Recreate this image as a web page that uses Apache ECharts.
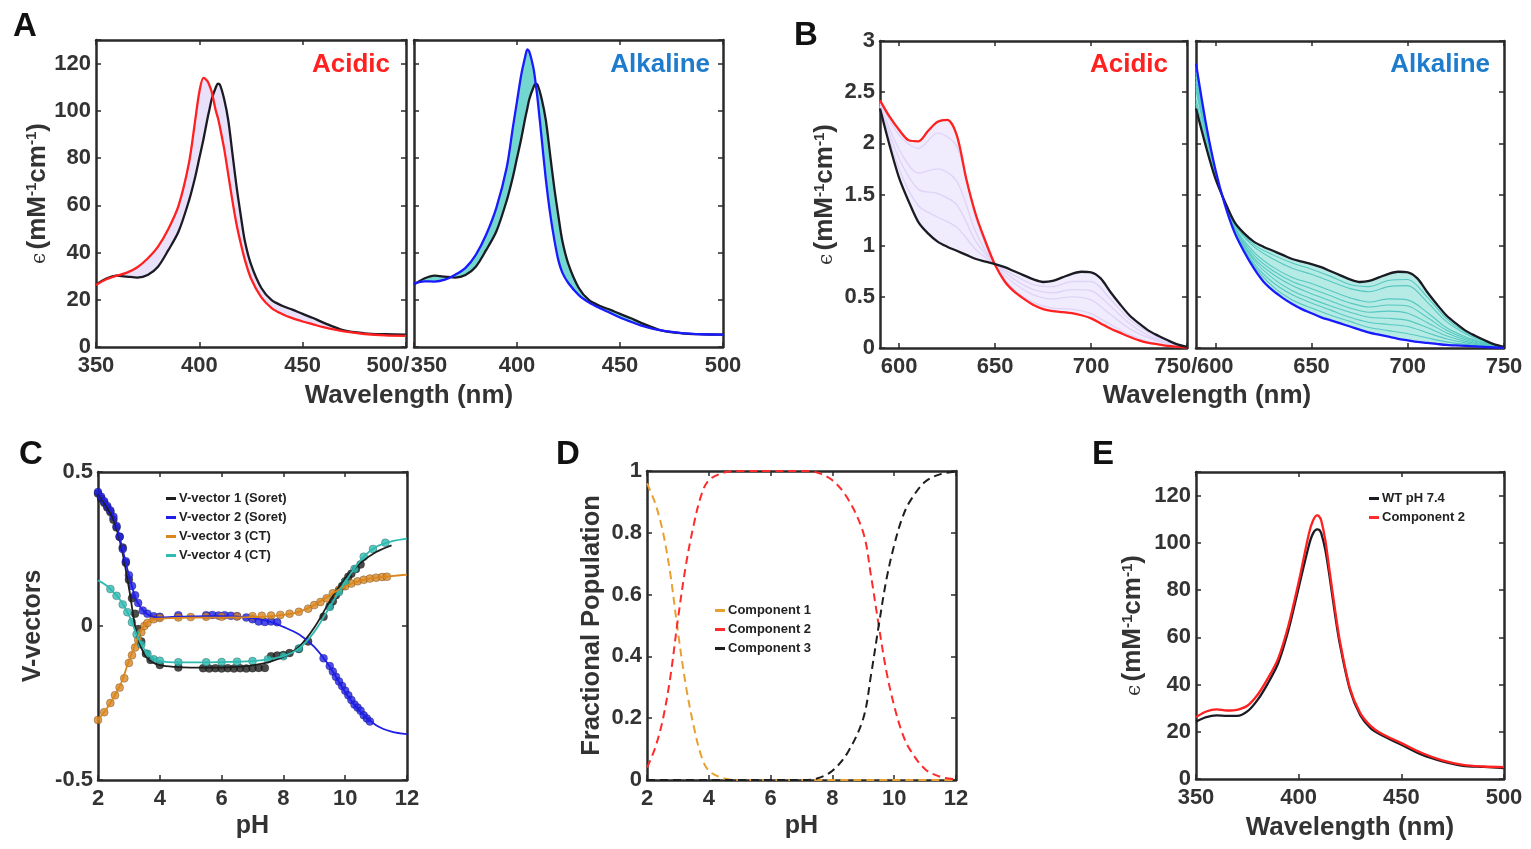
<!DOCTYPE html>
<html>
<head>
<meta charset="utf-8">
<script src="https://cdn.jsdelivr.net/npm/echarts@6/dist/echarts.min.js"></script>
<style>
html, body { margin: 0; padding: 0; background: #ffffff; }
#chart { width: 1531px; height: 849px; }
</style>
</head>
<body>
<div id="chart"></div>
<script>
// ---------- Panel A: Soret band (350-500 nm) ----------
const wlA = [350,355,360,365,370,375,380,385,390,395,398,400,402,404,405,406,408,409,410,412,414,416,418,420,422,425,430,435,440,445,450,455,460,470,480,490,500];
const epsAcidA = [26.3,28.7,30.2,31.5,33.8,37.5,42.5,50,60,78,96,108,114,112.5,110.5,108,100,97,93,84,73,62,52,44,37,29,21,16.5,14,12.2,10.8,9.6,8.4,6.6,5.5,4.9,4.7];
const epsNeutralA = [26.5,29,30.2,29.8,29.4,30.5,34,41,49,62,72,80,88,97,101,105,110,111.5,111,105,96,82,68,56,45,35,25,19.8,17.5,15.8,14,12.3,10.3,7,5.8,5.4,5.2];
const epsAlkA = [26.8,27.8,27.7,28.5,30.6,33.5,39,47.5,59,76,93,104,115,123,126,125,118,112,105,88,71,57,46,37,31.5,27,22,18.8,16.5,14.5,12.5,10.8,9.2,7,5.9,5.4,5.2];

// ---------- Panel B: charge-transfer region (590-750 nm) ----------
const wlB = [590,595,600,605,610,615,620,625,630,635,640,645,650,655,660,665,670,675,680,685,690,695,700,705,710,715,720,725,730,735,740,745,750];
const epsAcidB = [2.42,2.26,2.13,2.03,2.02,2.12,2.21,2.23,2.08,1.65,1.30,1.04,0.81,0.65,0.55,0.48,0.42,0.38,0.36,0.35,0.34,0.32,0.29,0.24,0.19,0.15,0.11,0.075,0.05,0.035,0.02,0.01,0.005];
const epsNeutralB = [2.34,1.98,1.66,1.43,1.23,1.12,1.04,0.99,0.95,0.91,0.87,0.845,0.82,0.79,0.75,0.71,0.67,0.645,0.655,0.69,0.725,0.745,0.74,0.68,0.55,0.43,0.32,0.24,0.17,0.12,0.075,0.035,0.01];
const epsAlkB = [2.78,2.21,1.75,1.40,1.13,0.94,0.78,0.65,0.56,0.49,0.43,0.38,0.34,0.30,0.27,0.24,0.21,0.18,0.15,0.13,0.11,0.09,0.075,0.06,0.05,0.04,0.03,0.025,0.02,0.015,0.01,0.005,0];

// intermediate titration spectra, sampled every 10 nm
const wlBmid = [590,600,610,620,630,640,650,660,670,680,690,700,710,720,730,740,750];
const acidMix1 = [2.41,2.08,1.95,2.10,1.97,1.26,0.81,0.57,0.445,0.39,0.38,0.335,0.23,0.13,0.06,0.025,0.006];
const acidMix2 = [2.39,1.94,1.71,1.75,1.63,1.13,0.81,0.63,0.52,0.48,0.50,0.47,0.33,0.19,0.10,0.042,0.007];
const acidMix3 = [2.37,1.85,1.55,1.51,1.40,1.04,0.82,0.67,0.57,0.54,0.57,0.56,0.41,0.24,0.12,0.053,0.008];
const acidMix4 = [2.36,1.75,1.39,1.28,1.18,0.96,0.82,0.71,0.62,0.60,0.65,0.65,0.48,0.28,0.15,0.064,0.009];
const alkMix1 = [2.38,1.67,1.22,1.01,0.91,0.83,0.77,0.70,0.62,0.60,0.66,0.67,0.50,0.29,0.155,0.069,0.009];
const alkMix2 = [2.43,1.68,1.21,0.99,0.87,0.78,0.72,0.65,0.58,0.55,0.60,0.61,0.45,0.26,0.14,0.06,0.008];
const alkMix3 = [2.52,1.70,1.19,0.94,0.79,0.69,0.63,0.56,0.49,0.45,0.48,0.47,0.35,0.20,0.11,0.05,0.006];
const alkMix4 = [2.56,1.71,1.18,0.91,0.755,0.65,0.58,0.51,0.44,0.40,0.42,0.41,0.30,0.175,0.095,0.043,0.005];
const alkMix5 = [2.60,1.71,1.17,0.88,0.72,0.61,0.53,0.46,0.39,0.35,0.36,0.34,0.25,0.15,0.08,0.036,0.004];
const alkMix6 = [2.65,1.72,1.16,0.86,0.68,0.56,0.48,0.41,0.35,0.30,0.29,0.27,0.20,0.12,0.065,0.03,0.003];
const alkMix7 = [2.69,1.73,1.15,0.83,0.64,0.52,0.44,0.37,0.30,0.25,0.23,0.21,0.15,0.09,0.05,0.023,0.002];
const alkMix8 = [2.74,1.74,1.14,0.81,0.60,0.47,0.39,0.32,0.26,0.20,0.17,0.14,0.10,0.06,0.035,0.017,0.001];

// ---------- Panel C: SVD V-vectors vs pH ----------
const phFit = [2,2.25,2.5,2.75,3,3.25,3.5,3.75,4,4.5,5,5.5,6,6.5,7,7.5,8,8.5,9,9.5,10,10.5,11,11.5,12];
const v1Fit = [0.43,0.392,0.345,0.258,0.125,-0.025,-0.093,-0.117,-0.127,-0.133,-0.135,-0.135,-0.135,-0.133,-0.128,-0.118,-0.1,-0.068,-0.005,0.08,0.155,0.205,0.24,0.262];
const v2Fit = [0.435,0.40,0.36,0.268,0.165,0.082,0.046,0.031,0.028,0.03,0.031,0.032,0.032,0.03,0.025,0.016,-0.003,-0.027,-0.068,-0.132,-0.215,-0.28,-0.322,-0.343,-0.351];
const v3Fit = [-0.305,-0.273,-0.232,-0.185,-0.113,-0.048,0.003,0.02,0.024,0.026,0.027,0.027,0.027,0.028,0.029,0.031,0.036,0.046,0.068,0.1,0.129,0.147,0.157,0.162,0.167];
const v4Fit = [0.148,0.133,0.11,0.08,0.035,-0.027,-0.076,-0.103,-0.113,-0.118,-0.118,-0.118,-0.117,-0.116,-0.114,-0.108,-0.098,-0.073,-0.019,0.062,0.143,0.214,0.257,0.275,0.284];

const v1PtsPH = [2.0,2.1,2.2,2.3,2.4,2.5,2.6,2.7,2.8,2.9,3.0,3.1,3.2,3.3,3.4,3.55,3.7,4.0,4.6,5.4,5.6,5.8,6.0,6.2,6.4,6.6,6.8,7.0,7.2,7.4,7.6,7.8,8.0,8.2,8.5,8.8,9.3,9.5,9.6,9.7,9.8,9.9,10.0,10.1,10.2,10.35,10.5];
const v1Pts = [0.43,0.415,0.40,0.385,0.37,0.345,0.32,0.29,0.255,0.205,0.15,0.09,0.04,-0.01,-0.05,-0.09,-0.11,-0.127,-0.135,-0.137,-0.138,-0.137,-0.138,-0.137,-0.138,-0.137,-0.138,-0.137,-0.136,-0.136,-0.098,-0.096,-0.094,-0.088,-0.075,-0.05,0.03,0.065,0.08,0.1,0.115,0.13,0.145,0.16,0.17,0.185,0.2];
const v2PtsPH = [2.0,2.1,2.2,2.3,2.4,2.5,2.6,2.7,2.8,2.9,3.0,3.1,3.2,3.3,3.45,3.6,3.8,4.0,4.6,5.5,5.7,5.9,6.1,6.3,6.5,6.8,7.0,7.2,7.4,7.6,7.8,9.3,9.5,9.6,9.7,9.8,9.9,10.0,10.1,10.2,10.3,10.4,10.5,10.6,10.7,10.8];
const v2Pts = [0.435,0.42,0.405,0.39,0.375,0.355,0.325,0.29,0.25,0.21,0.165,0.13,0.1,0.075,0.05,0.04,0.032,0.03,0.035,0.035,0.036,0.034,0.035,0.033,0.032,0.028,0.022,0.015,0.013,0.015,0.012,-0.105,-0.13,-0.148,-0.165,-0.18,-0.195,-0.21,-0.225,-0.24,-0.255,-0.265,-0.275,-0.29,-0.3,-0.31];
const v3PtsPH = [2.0,2.2,2.4,2.55,2.7,2.85,3.0,3.1,3.2,3.3,3.4,3.5,3.6,3.8,4.0,4.6,5.0,5.5,6.0,6.5,7.0,7.3,7.6,7.9,8.2,8.5,8.8,9.0,9.2,9.4,9.6,9.8,10.0,10.2,10.4,10.6,10.8,11.0,11.2,11.35];
const v3Pts = [-0.305,-0.28,-0.25,-0.225,-0.2,-0.17,-0.12,-0.095,-0.07,-0.045,-0.02,0.0,0.01,0.022,0.026,0.028,0.029,0.03,0.03,0.031,0.032,0.033,0.034,0.036,0.04,0.046,0.056,0.068,0.078,0.09,0.106,0.118,0.129,0.138,0.145,0.15,0.154,0.157,0.159,0.16];
const v4PtsPH = [2.4,2.6,2.8,2.95,3.1,3.25,3.4,3.6,3.8,4.0,4.6,5.5,6.0,6.5,7.0,7.5,8.0,8.5,9.5,9.8,10.0,10.3,10.6,10.9,11.3];
const v4Pts = [0.12,0.098,0.07,0.045,0.012,-0.027,-0.06,-0.09,-0.108,-0.113,-0.118,-0.118,-0.117,-0.116,-0.114,-0.108,-0.098,-0.073,0.062,0.11,0.143,0.185,0.225,0.25,0.27];

// ---------- Panel D: fractional populations ----------
const phPop = [2,2.25,2.5,2.75,3,3.25,3.5,3.75,4,4.5,5,6,7,7.5,8,8.5,9,9.25,9.5,9.75,10,10.25,10.5,11,11.5,12];
const comp1 = [0.96,0.90,0.81,0.67,0.48,0.31,0.18,0.08,0.03,0.005,0,0,0,0,0,0,0,0,0,0,0,0,0,0,0,0];
const comp2 = [0.04,0.10,0.19,0.33,0.52,0.69,0.82,0.92,0.97,0.995,1,1,1,0.995,0.97,0.91,0.80,0.66,0.50,0.35,0.24,0.155,0.10,0.035,0.01,0.002];
const comp3 = [0,0,0,0,0,0,0,0,0,0,0,0,0,0.005,0.03,0.09,0.20,0.34,0.50,0.65,0.76,0.845,0.90,0.965,0.99,0.998];

// ---------- Panel E: WT vs component 2 ----------
const wlE = [350,355,360,365,370,375,380,385,390,395,400,405,407,409,410,411,413,415,418,420,425,430,435,440,450,460,470,480,490,500];
const epsWT = [24.3,26.2,26.9,26.7,26.7,28.6,33.5,40.5,49,63,81,99,104,105.7,105.5,104,97,86,68,57.4,37.7,27,21.5,18.7,14.5,10.3,7.5,5.6,5.1,4.6];
const epsComp2 = [26.2,28.6,29.5,29,29.3,31,35.7,42.6,51,65,83.4,104,109.5,111.6,111.2,109.5,101,88.4,70,58.8,38.4,27.9,22.5,19.4,15.2,11,7.9,6,5.3,5];

// ---------- styling helpers ----------
const FONT = '"Liberation Sans", Arial, Helvetica, sans-serif';
const INK = '#2a2a2a';
const LABEL = '#333333';
const TICK_FS = 22;
const pairs = (xs, ys) => ys.map((y, i) => [xs[i], y]);

const grids = [
  { left: 96,   top: 40,  width: 310, height: 307 }, // A acidic
  { left: 414,  top: 40,  width: 309, height: 307 }, // A alkaline
  { left: 880,  top: 41,  width: 307, height: 307 }, // B acidic
  { left: 1196, top: 41,  width: 308, height: 307 }, // B alkaline
  { left: 98,   top: 472, width: 309, height: 308 }, // C
  { left: 647,  top: 471, width: 309, height: 309 }, // D
  { left: 1196, top: 472, width: 308, height: 307 }  // E
];

const xAxes = [];
const yAxes = [];
const lineBox = { show: true, onZero: false, lineStyle: { color: INK, width: 2.5 } };
const tickStyle = (custom) => {
  const t = { show: true, inside: true, length: 5, lineStyle: { color: INK, width: 1.5 } };
  if (custom) t.customValues = custom;
  return t;
};
const labelStyle = (extra) => Object.assign({
  color: LABEL, fontFamily: FONT, fontWeight: 'bold', fontSize: TICK_FS
}, extra || {});
const titleStyle = (size) => ({ color: LABEL, fontFamily: FONT, fontWeight: 'bold', fontSize: size || 25 });

function addAxes(g, xo, yo) {
  const xBase = {
    gridIndex: g, type: 'value', min: xo.min, max: xo.max,
    axisLine: lineBox, splitLine: { show: false }
  };
  if (xo.interval) xBase.interval = xo.interval;
  xAxes.push(Object.assign({}, xBase, {
    position: 'bottom',
    axisTick: tickStyle(xo.ticks),
    axisLabel: labelStyle(Object.assign({ margin: 8 }, xo.label || {}, xo.ticks ? { customValues: xo.ticks } : {})),
    name: xo.name || '', nameLocation: 'middle', nameGap: xo.nameGap || 36,
    nameTextStyle: titleStyle(xo.nameSize)
  }));
  xAxes.push(Object.assign({}, xBase, {
    position: 'top', axisTick: tickStyle(xo.ticks), axisLabel: { show: false }
  }));
  const yBase = {
    gridIndex: g, type: 'value', min: yo.min, max: yo.max, interval: yo.interval,
    axisLine: lineBox, splitLine: { show: false }
  };
  yAxes.push(Object.assign({}, yBase, {
    position: 'left',
    axisTick: tickStyle(),
    axisLabel: yo.hideLabels ? { show: false } : labelStyle(Object.assign({ margin: 5 }, yo.label || {})),
    name: yo.name || '', nameLocation: 'middle', nameGap: yo.nameGap || 50,
    nameTextStyle: yo.nameStyle || titleStyle(yo.nameSize)
  }));
  yAxes.push(Object.assign({}, yBase, {
    position: 'right', axisTick: tickStyle(), axisLabel: { show: false }
  }));
}

// epsilon axis title with superscripts
const epsName = '{e|ϵ} {t|(mM}{s|-1}{t|cm}{s|-1}{t|)}';
const epsStyle = {
  color: LABEL,
  rich: {
    e: { fontFamily: '"DejaVu Serif", serif', fontSize: 20, color: LABEL, verticalAlign: 'bottom', padding: [0, 0, 1, 0] },
    t: { fontFamily: FONT, fontWeight: 'bold', fontSize: 26, color: LABEL, verticalAlign: 'bottom' },
    s: { fontFamily: FONT, fontWeight: 'bold', fontSize: 15, color: LABEL, verticalAlign: 'top' }
  }
};
const hideTop = (v) => (v > 125 ? '' : String(v));
const edgeRich = (pad) => ({ color: LABEL, fontFamily: FONT, fontWeight: 'bold', fontSize: TICK_FS, padding: pad });

// A acidic
addAxes(0,
  { min: 350, max: 500, interval: 50,
    label: { formatter: (v) => (v === 500 ? '{e|500/}' : String(v)), rich: { e: edgeRich([0, 36, 0, 0]) } } },
  { min: 0, max: 130, interval: 20, name: epsName, nameGap: 45, nameStyle: epsStyle, label: { formatter: hideTop } });
// A alkaline
addAxes(1,
  { min: 350, max: 500, interval: 50,
    label: { formatter: (v) => (v === 350 ? '{s|350}' : String(v)), rich: { s: edgeRich([0, 0, 0, 30]) } } },
  { min: 0, max: 130, interval: 20, hideLabels: true });
// B acidic
addAxes(2,
  { min: 590, max: 750, ticks: [600, 650, 700, 750],
    label: { formatter: (v) => (v === 750 ? '{e|750/}' : String(v)), rich: { e: edgeRich([0, 22, 0, 0]) } } },
  { min: 0, max: 3, interval: 0.5, name: epsName, nameGap: 42, nameStyle: epsStyle });
// B alkaline
addAxes(3,
  { min: 590, max: 750, ticks: [600, 650, 700, 750] },
  { min: 0, max: 3, interval: 0.5, hideLabels: true });
// C
addAxes(4,
  { min: 2, max: 12, interval: 2, name: 'pH', nameGap: 34 },
  { min: -0.5, max: 0.5, interval: 0.5, name: 'V-vectors', nameGap: 52 });
// D
addAxes(5,
  { min: 2, max: 12, interval: 2, name: 'pH', nameGap: 34 },
  { min: 0, max: 1, interval: 0.2, name: 'Fractional Population', nameGap: 42, nameSize: 25.5 });
// E
addAxes(6,
  { min: 350, max: 500, interval: 50, name: 'Wavelength (nm)', nameGap: 36, nameSize: 26 },
  { min: 0, max: 130, interval: 20, name: epsName, nameGap: 50, nameStyle: epsStyle, label: { formatter: hideTop } });

const ax = (g) => ({ xAxisIndex: 2 * g, yAxisIndex: 2 * g });
const series = [];

function curve(g, xs, ys, color, width, extra) {
  series.push(Object.assign({
    type: 'line', data: pairs(xs, ys), symbol: 'none', smooth: 0.3, silent: true,
    lineStyle: { color: color, width: width }, itemStyle: { color: color }, z: 3
  }, ax(g), extra || {}));
}
// filled region between two spectra, drawn as one polygon in data coordinates
function band(g, xs, lower, upper, color) {
  series.push(Object.assign({
    type: 'custom', silent: true, z: 1, clip: true,
    data: xs.map((x, i) => [x, lower[i], upper[i]]),
    encode: { x: 0, y: [1, 2] },
    renderItem: (params, api) => {
      if (params.dataIndex !== 0) return null;
      const top = xs.map((x, i) => api.coord([x, upper[i]]));
      const bottom = xs.map((x, i) => api.coord([x, lower[i]])).reverse();
      return {
        type: 'polygon',
        shape: { points: top.concat(bottom) },
        style: { fill: color, stroke: color, lineWidth: 0.5 }
      };
    }
  }, ax(g)));
}

const RED = '#ff2020';
const BLACK = '#1b1b24';
const BLUE = '#1a1aff';

// A acidic
band(0, wlA, epsNeutralA, epsAcidA, '#e9e0fa');
curve(0, wlA, epsNeutralA, BLACK, 2.3);
curve(0, wlA, epsAcidA, RED, 2.3);
// A alkaline
band(1, wlA, epsNeutralA, epsAlkA, '#74d7cf');
curve(1, wlA, epsNeutralA, BLACK, 2.3);
curve(1, wlA, epsAlkA, BLUE, 2.3);
// B acidic
band(2, wlB, epsNeutralB, epsAcidB, '#f1ecfd');
[acidMix1, acidMix2, acidMix3, acidMix4].forEach((m) => curve(2, wlBmid, m, '#dfd4f7', 1.4, { z: 2 }));
curve(2, wlB, epsAcidB, RED, 2.3);
curve(2, wlB, epsNeutralB, BLACK, 2.3);
// B alkaline
band(3, wlB, epsAlkB, epsNeutralB, '#b6eae5');
[alkMix1, alkMix2, alkMix3, alkMix4, alkMix5, alkMix6, alkMix7, alkMix8]
  .forEach((m) => curve(3, wlBmid, m, '#55c9c1', 1.1, { z: 2 }));
curve(3, wlB, epsNeutralB, BLACK, 2.3);
curve(3, wlB, epsAlkB, BLUE, 2.3);

// C: fitted curves with measured points
const vecs = [
  { name: 'V-vector 1 (Soret)', color: '#1e1e1e', fit: v1Fit, px: v1PtsPH, py: v1Pts },
  { name: 'V-vector 2 (Soret)', color: '#1f1fe6', fit: v2Fit, px: v2PtsPH, py: v2Pts },
  { name: 'V-vector 3 (CT)',    color: '#d9861f', fit: v3Fit, px: v3PtsPH, py: v3Pts },
  { name: 'V-vector 4 (CT)',    color: '#2fbab2', fit: v4Fit, px: v4PtsPH, py: v4Pts }
];
vecs.forEach((v) => {
  series.push(Object.assign({
    type: 'scatter', data: pairs(v.px, v.py), symbol: 'circle', symbolSize: 8, silent: true,
    itemStyle: { color: v.color, borderColor: 'rgba(0,0,0,0.35)', borderWidth: 0.8 }, z: 2
  }, ax(4)));
});
vecs.forEach((v) => {
  series.push(Object.assign({
    name: v.name, type: 'line', data: pairs(phFit, v.fit), symbol: 'none', smooth: 0.35, silent: true,
    lineStyle: { color: v.color, width: 1.8 }, itemStyle: { color: v.color }, z: 3
  }, ax(4)));
});

// D: dashed population curves
[
  { name: 'Component 1', color: '#e8a030', ys: comp1 },
  { name: 'Component 2', color: '#ff2a2a', ys: comp2 },
  { name: 'Component 3', color: '#1e1e1e', ys: comp3 }
].forEach((c) => {
  series.push(Object.assign({
    name: c.name, type: 'line', data: pairs(phPop, c.ys), symbol: 'none', smooth: 0.35, silent: true,
    lineStyle: { color: c.color, width: 2, type: [8, 5] }, itemStyle: { color: c.color }, z: 3
  }, ax(5)));
});

// E
curve(6, wlE, epsWT, BLACK, 2.3, { name: 'WT pH 7.4' });
curve(6, wlE, epsComp2, RED, 2.3, { name: 'Component 2', z: 4 });

const legendBase = {
  orient: 'vertical', icon: 'rect', itemWidth: 10, itemHeight: 3, itemGap: 4, padding: 0,
  selectedMode: false,
  textStyle: { color: '#222', fontFamily: FONT, fontWeight: 'bold', fontSize: 13, lineHeight: 15, padding: [0, 0, 0, -2] }
};
const legends = [
  Object.assign({}, legendBase, { left: 166, top: 491, data: vecs.map((v) => v.name) }),
  Object.assign({}, legendBase, { left: 715, top: 603, data: ['Component 1', 'Component 2', 'Component 3'] }),
  Object.assign({}, legendBase, { left: 1369, top: 491, data: ['WT pH 7.4', 'Component 2'] })
];

const textEl = (x, y, text, size, fill, align) => ({
  type: 'text', x: x, y: y, silent: true,
  style: { text: text, font: 'bold ' + size + 'px ' + FONT, fill: fill, align: align || 'left', verticalAlign: 'middle' }
});

const graphics = [
  textEl(13, 27, 'A', 33, '#111'),
  textEl(794, 36, 'B', 33, '#111'),
  textEl(19, 455, 'C', 33, '#111'),
  textEl(556, 455, 'D', 33, '#111'),
  textEl(1092, 455, 'E', 33, '#111'),
  textEl(390, 65, 'Acidic', 26, '#ff2020', 'right'),
  textEl(710, 65, 'Alkaline', 26, '#1f7ccc', 'right'),
  textEl(1168, 65, 'Acidic', 26, '#ff2020', 'right'),
  textEl(1490, 65, 'Alkaline', 26, '#1f7ccc', 'right'),
  textEl(409, 396, 'Wavelength (nm)', 26, LABEL, 'center'),
  textEl(1207, 396, 'Wavelength (nm)', 26, LABEL, 'center')
];

const chart = echarts.init(document.getElementById('chart'), null, { renderer: 'canvas' });
chart.setOption({
  backgroundColor: '#ffffff',
  animation: false,
  textStyle: { fontFamily: FONT },
  grid: grids,
  xAxis: xAxes,
  yAxis: yAxes,
  legend: legends,
  graphic: graphics,
  series: series
});
</script>
</body>
</html>
